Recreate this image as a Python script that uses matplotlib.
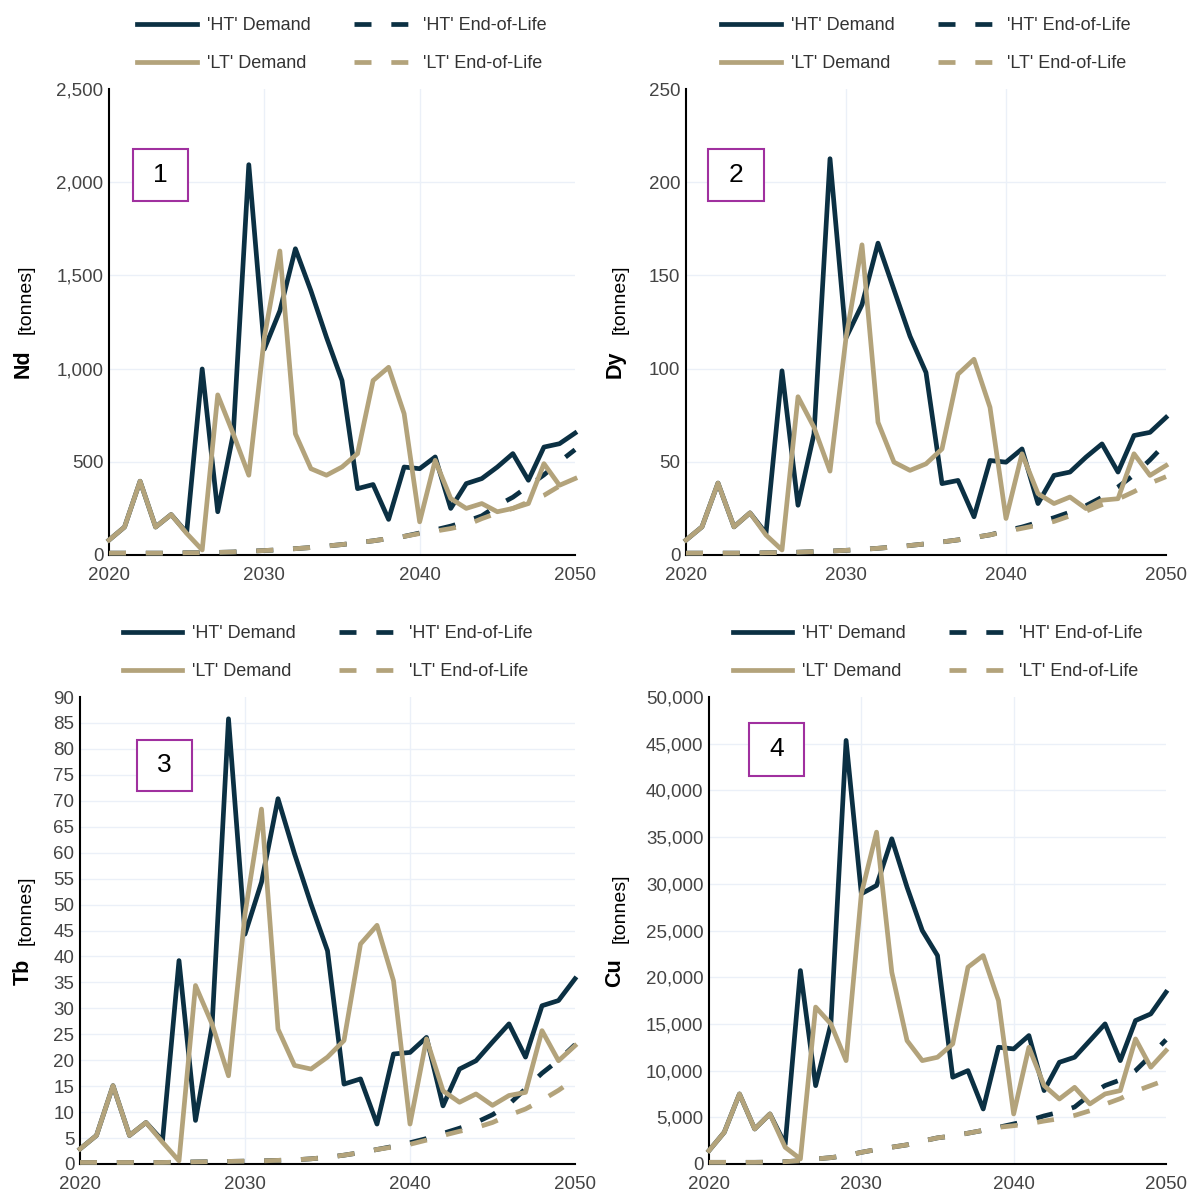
import matplotlib.pyplot as plt
from matplotlib.patches import Rectangle
from matplotlib.ticker import FuncFormatter

plt.rcParams['font.family'] = ['Liberation Sans', 'DejaVu Sans']

W, H = 1195, 1191

years = list(range(2020, 2051))

# Nd [tonnes]
nd_ht_demand = [80, 150, 396, 150, 217, 120, 998, 232, 650, 2094, 1105, 1310, 1643, 1417, 1168, 936,
                356, 378, 191, 472, 463, 526, 250, 383, 410, 472, 544, 401, 579, 597, 654]
nd_lt_demand = [80, 150, 396, 150, 217, 116, 27, 859, 650, 428, 1168, 1631, 650, 463, 428, 472,
                544, 936, 1007, 758, 178, 508, 303, 250, 276, 232, 250, 276, 490, 374, 410]
nd_ht_eol = [10, 10, 10, 10, 10, 12, 12, 14, 16, 20, 24, 28, 34, 40, 48, 56,
             66, 76, 88, 100, 118, 135, 155, 180, 210, 265, 310, 370, 430, 500, 565]
nd_lt_eol = [10, 10, 10, 10, 10, 12, 12, 14, 16, 20, 24, 28, 34, 40, 48, 56,
             66, 76, 88, 100, 115, 128, 142, 160, 195, 225, 250, 285, 320, 370, 410]

# Dy [tonnes]
dy_ht_demand = [8.0, 15.1, 38.6, 15.1, 22.6, 11.6, 98.8, 26.7, 65.0, 212.6, 116.5, 134.3, 167.3, 142.3,
                117.4, 97.9, 38.3, 40.0, 20.5, 50.7, 49.8, 56.9, 27.6, 42.7, 44.5, 52.5, 59.6, 44.5,
                64.1, 65.8, 73.8]
dy_lt_demand = [8.0, 15.1, 38.6, 15.1, 22.6, 10.7, 2.7, 84.9, 68.5, 45.0, 116.5, 166.4, 71.2, 49.8,
                45.4, 48.9, 56.9, 97.0, 105.0, 79.2, 19.6, 54.3, 32.9, 27.6, 31.1, 24.9, 29.4, 30.2,
                54.3, 42.7, 48.0]
dy_ht_eol = [1, 1, 1, 1, 1, 1.2, 1.3, 1.5, 1.8, 2.1, 2.5, 3, 3.6, 4.3, 5.1, 6,
             7, 8.1, 9.4, 10.8, 13, 15, 17.5, 20, 23, 26.5, 31, 36.5, 43, 51, 60]
dy_lt_eol = [1, 1, 1, 1, 1, 1.2, 1.3, 1.5, 1.8, 2.1, 2.5, 3, 3.6, 4.3, 5.1, 6,
             7, 8.1, 9.4, 10.8, 12.6, 14.3, 16, 18, 21, 23.5, 27, 30, 34, 38.5, 42]

# Tb [tonnes]
tb_ht_demand = [2.9, 5.5, 15.1, 5.5, 8.0, 4.5, 39.2, 8.4, 26.4, 85.8, 44.3, 54.3, 70.4, 59.8, 50.1,
                41.1, 15.4, 16.4, 7.7, 21.2, 21.5, 24.4, 11.2, 18.3, 19.9, 23.5, 27.0, 20.6, 30.5,
                31.5, 35.7]
tb_lt_demand = [2.9, 5.5, 15.1, 5.5, 8.0, 4.2, 0.6, 34.4, 27.0, 17.0, 48.2, 68.4, 26.0, 19.0, 18.3,
                20.6, 23.8, 42.4, 46.0, 35.3, 7.7, 24.1, 14.1, 11.9, 13.5, 11.3, 13.2, 13.8, 25.7,
                19.9, 22.8]
tb_ht_eol = [0.3, 0.3, 0.3, 0.3, 0.3, 0.3, 0.35, 0.4, 0.45, 0.5, 0.55, 0.6, 0.7, 0.8, 1.0, 1.3,
             1.7, 2.2, 2.8, 3.4, 4.1, 4.9, 5.9, 6.9, 8.0, 9.5, 11.5, 14.5, 17.5, 20.0, 23.0]
tb_lt_eol = [0.3, 0.3, 0.3, 0.3, 0.3, 0.3, 0.35, 0.4, 0.45, 0.5, 0.55, 0.6, 0.7, 0.8, 1.0, 1.3,
             1.7, 2.2, 2.8, 3.3, 3.8, 4.6, 5.5, 6.3, 7.0, 8.0, 9.4, 10.6, 12.3, 14.2, 16.4]

# Cu [tonnes]
cu_ht_demand = [1430, 3390, 7500, 3750, 5360, 2100, 20710, 8390, 15000, 45350, 28930, 29820, 34820,
                29640, 25000, 22320, 9290, 10000, 5890, 12500, 12320, 13750, 7860, 10890, 11430,
                13210, 15000, 11070, 15360, 16070, 18390]
cu_lt_demand = [1430, 3390, 7500, 3750, 5360, 1790, 540, 16800, 15000, 11070, 28930, 35530, 20530,
                13210, 11070, 11430, 12860, 21070, 22320, 17500, 5360, 12500, 8390, 6960, 8210,
                6430, 7500, 7860, 13390, 10360, 12140]
cu_ht_eol = [180, 180, 180, 180, 200, 250, 350, 540, 680, 900, 1250, 1550, 1800, 2050, 2450, 2800,
             3000, 3300, 3600, 3930, 4290, 4650, 5150, 5550, 6100, 7400, 8400, 9000, 10000, 11600, 13300]
cu_lt_eol = [180, 180, 180, 180, 200, 250, 350, 540, 680, 900, 1250, 1550, 1800, 2050, 2450, 2800,
             3000, 3300, 3600, 3930, 4100, 4300, 4600, 4850, 5200, 5700, 6400, 7000, 7800, 8400, 9000]

series_labels = ["'HT' Demand", "'HT' End-of-Life", "'LT' Demand", "'LT' End-of-Life"]

navy = '#0b3043'
sand = '#b3a37b'
grid_col = '#ebf0f8'
box_col = '#a0309f'
tick_col = '#444444'
LW = 3.4
DASH = (0, (3.6, 4.2))

# pixel layout of each panel: plot rectangle, numbered box, y-label centres
panels = [
    dict(num='1', name='Nd', data=(nd_ht_demand, nd_ht_eol, nd_lt_demand, nd_lt_eol),
         ymax=2500, ystep=500, rect=(109, 89, 575, 555), box=(133, 149, 188, 201),
         name_xy=(23, 364), unit_xy=(26, 299)),
    dict(num='2', name='Dy', data=(dy_ht_demand, dy_ht_eol, dy_lt_demand, dy_lt_eol),
         ymax=250, ystep=50, rect=(686, 89, 1166, 555), box=(708, 149, 764, 201),
         name_xy=(615, 364), unit_xy=(620, 299)),
    dict(num='3', name='Tb', data=(tb_ht_demand, tb_ht_eol, tb_lt_demand, tb_lt_eol),
         ymax=90, ystep=5, rect=(80, 697, 575, 1164), box=(137, 740, 192, 791),
         name_xy=(23, 972), unit_xy=(26, 910)),
    dict(num='4', name='Cu', data=(cu_ht_demand, cu_ht_eol, cu_lt_demand, cu_lt_eol),
         ymax=50000, ystep=5000, rect=(709, 697, 1166, 1164), box=(749, 723, 804, 776),
         name_xy=(615, 973), unit_xy=(620, 908)),
]

fig = plt.figure(figsize=(W / 100, H / 100), dpi=100)
fig.patch.set_facecolor('white')

for p in panels:
    left, top, right, bottom = p['rect']
    ax = fig.add_axes([left / W, 1 - bottom / H, (right - left) / W, (bottom - top) / H])
    ht, ht_eol, lt, lt_eol = p['data']

    h1, = ax.plot(years, ht, color=navy, lw=LW, clip_on=False, zorder=3)
    h2, = ax.plot(years, ht_eol, color=navy, lw=LW, ls=DASH, dash_capstyle='butt', clip_on=False, zorder=3)
    h3, = ax.plot(years, lt, color=sand, lw=LW, clip_on=False, zorder=3)
    h4, = ax.plot(years, lt_eol, color=sand, lw=LW, ls=DASH, dash_capstyle='butt', clip_on=False, zorder=3)

    ax.set_xlim(2020, 2050)
    ax.set_ylim(0, p['ymax'])
    yticks = list(range(0, p['ymax'] + 1, p['ystep']))
    ax.set_xticks([2020, 2030, 2040, 2050])
    ax.set_yticks(yticks)
    ax.yaxis.set_major_formatter(FuncFormatter(lambda v, pos: f'{v:,.0f}'))

    # light grid on inner ticks only
    for v in yticks[1:-1]:
        ax.axhline(v, color=grid_col, lw=1, zorder=0)
    for v in (2030, 2040):
        ax.axvline(v, color=grid_col, lw=1, zorder=0)

    ax.tick_params(length=0, labelsize=13.5, labelcolor=tick_col)
    ax.tick_params(axis='y', pad=4)
    ax.tick_params(axis='x', pad=8.5)
    for s in ('top', 'right'):
        ax.spines[s].set_visible(False)
    for s in ('left', 'bottom'):
        ax.spines[s].set_color('black')
        ax.spines[s].set_linewidth(1.5)
        ax.spines[s].set_zorder(2)

    axh = bottom - top
    leg = ax.legend([h1, h3, h2, h4],
                    [series_labels[0], series_labels[2], series_labels[1], series_labels[3]],
                    ncol=2, loc='lower center', bbox_to_anchor=(0.5, 1 + 17 / axh),
                    frameon=False, fontsize=13, handlelength=3.3, handletextpad=0.55,
                    columnspacing=2.4, labelspacing=1.17, borderpad=0, borderaxespad=0)
    for t in leg.get_texts():
        t.set_color('#333333')

    # numbered box
    bx0, by0, bx1, by1 = p['box']
    fig.add_artist(Rectangle((bx0 / W, 1 - by1 / H), (bx1 - bx0) / W, (by1 - by0) / H,
                             transform=fig.transFigure, facecolor='white',
                             edgecolor=box_col, lw=1.5, zorder=5))
    fig.text((bx0 + bx1) / 2 / W, 1 - (by0 + by1) / 2 / H, p['num'],
             fontsize=19, ha='center', va='center', color='black', zorder=6)

    # y-axis label: bold element name followed by the unit
    nx, ny = p['name_xy']
    fig.text(nx / W, 1 - ny / H, p['name'], rotation=90, fontsize=15.5,
             fontweight='bold', ha='center', va='center', color='black')
    ux, uy = p['unit_xy']
    fig.text(ux / W, 1 - uy / H, '[tonnes]', rotation=90, fontsize=14,
             ha='center', va='center', color='black')

fig.savefig('out.png', dpi=100, facecolor='white')
